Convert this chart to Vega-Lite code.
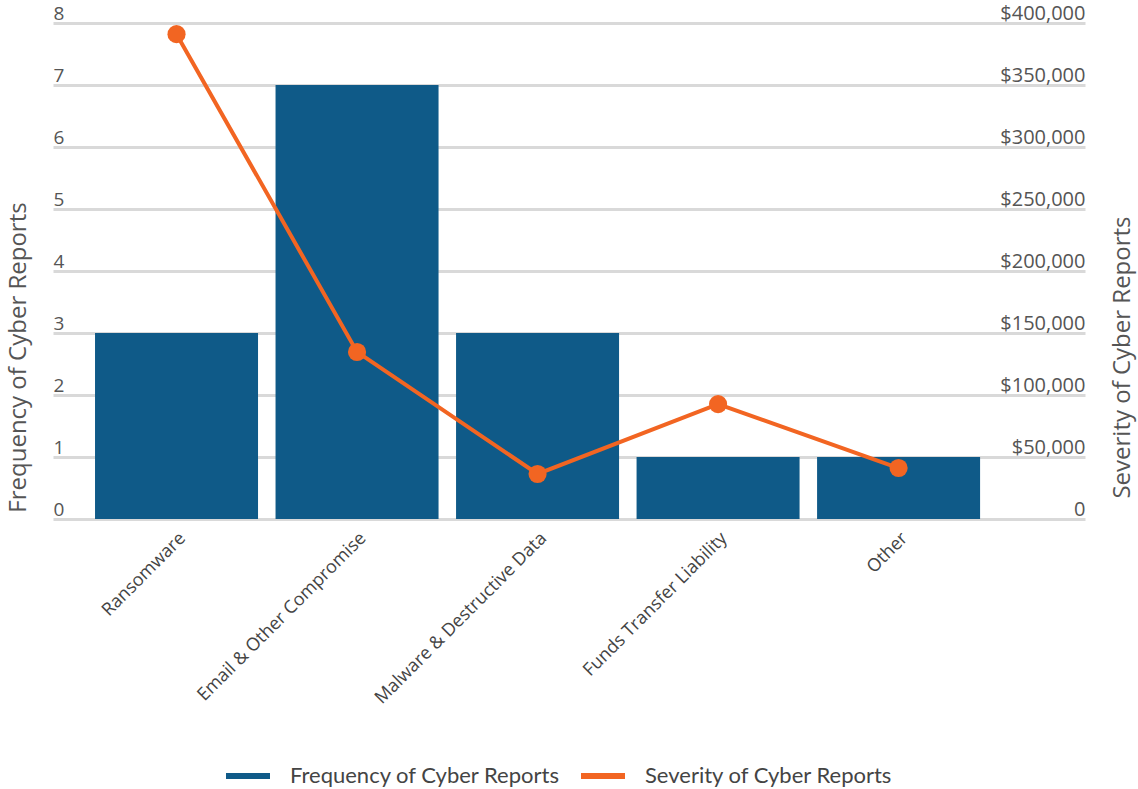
{
  "$schema": "https://vega.github.io/schema/vega-lite/v6.json",
  "width": 1032,
  "height": 496,
  "autosize": {"type": "none"},
  "padding": {"left": 53, "top": 23, "right": 53, "bottom": 270},
  "background": "white",
  "data": {
    "values": [
      {"category": "Ransomware", "frequency": 3, "severity": 391000},
      {"category": "Email & Other Compromise", "frequency": 7, "severity": 134700},
      {"category": "Malware & Destructive Data", "frequency": 3, "severity": 36300},
      {"category": "Funds Transfer Liability", "frequency": 1, "severity": 92700},
      {"category": "Other", "frequency": 1, "severity": 41100}
    ]
  },
  "config": {
    "view": {"stroke": null},
    "font": "Open Sans"
  },
  "encoding": {
    "x": {
      "field": "category",
      "type": "nominal",
      "sort": null,
      "scale": {"paddingInner": 0.097, "paddingOuter": 0.407, "align": 0.286},
      "axis": {
        "title": null,
        "labelAngle": -45,
        "labelFont": "Open Sans",
        "labelFontSize": 18,
        "labelColor": "#444444",
        "labelLimit": 0,
        "ticks": false,
        "domain": false,
        "labelPadding": 10,
        "grid": false
      }
    }
  },
  "layer": [
    {
      "mark": {"type": "bar", "color": "#0f5a88"},
      "encoding": {
        "y": {
          "field": "frequency",
          "type": "quantitative",
          "scale": {"domain": [0, 8], "nice": false},
          "axis": {
            "title": "Frequency of Cyber Reports",
            "titleFont": "Open Sans",
            "titleFontSize": 24,
            "titleFontWeight": "normal",
            "titleColor": "#555555",
            "titleAngle": -90,
            "titleX": -35,
            "titleY": 334,
            "titleAlign": "center",
            "titleBaseline": "middle",
            "values": [0, 1, 2, 3, 4, 5, 6, 7, 8],
            "labelFont": "Open Sans",
            "labelFontSize": 19,
            "labelColor": "#555555",
            "labelAlign": "left",
            "labelBaseline": "alphabetic",
            "labelOffset": -4,
            "labelPadding": 0,
            "ticks": false,
            "tickSize": 0,
            "domain": false,
            "grid": true,
            "gridColor": "#d9d9d9",
            "gridWidth": 3
          }
        },
        "color": {
          "datum": "Frequency of Cyber Reports",
          "type": "nominal",
          "scale": {
            "domain": ["Frequency of Cyber Reports", "Severity of Cyber Reports"],
            "range": ["#0f5a88", "#f26522"]
          },
          "legend": {
            "title": null,
            "orient": "none",
            "direction": "horizontal",
            "legendX": 173,
            "legendY": 731,
            "symbolType": "M-1,-0.14L1,-0.14L1,0.14L-1,0.14Z",
            "symbolSize": 1936,
            "symbolStrokeWidth": 0,
            "labelFont": "Lato",
            "labelFontSize": 22,
            "labelColor": "#444444",
            "labelLimit": 0,
            "labelOffset": 20,
            "columnPadding": 20
          }
        }
      }
    },
    {
      "layer": [
        {
          "mark": {"type": "line", "color": "#f26522", "strokeWidth": 4},
          "encoding": {
            "y": {
              "field": "severity",
              "type": "quantitative",
              "scale": {"domain": [0, 400000], "nice": false},
              "axis": {
                "orient": "right",
                "title": "Severity of Cyber Reports",
                "titleFont": "Open Sans",
                "titleFontSize": 24,
                "titleFontWeight": "normal",
                "titleColor": "#555555",
                "titleAngle": -90,
                "titleX": 37,
                "titleY": 334,
                "titleAlign": "center",
                "titleBaseline": "middle",
                "values": [0, 50000, 100000, 150000, 200000, 250000, 300000, 350000, 400000],
                "labelExpr": "datum.value === 0 ? '0' : format(datum.value, '$,')",
                "labelFont": "Open Sans",
                "labelFontSize": 20,
                "labelColor": "#555555",
                "labelAlign": "right",
                "labelBaseline": "alphabetic",
                "labelOffset": -4,
                "labelPadding": 0,
                "ticks": false,
                "tickSize": 0,
                "domain": false,
                "grid": false
              }
            }
          }
        },
        {
          "mark": {"type": "point", "filled": true, "opacity": 1, "color": "#f26522", "size": 330},
          "encoding": {
            "y": {"field": "severity", "type": "quantitative"}
          }
        }
      ]
    }
  ],
  "resolve": {"scale": {"y": "independent"}}
}
